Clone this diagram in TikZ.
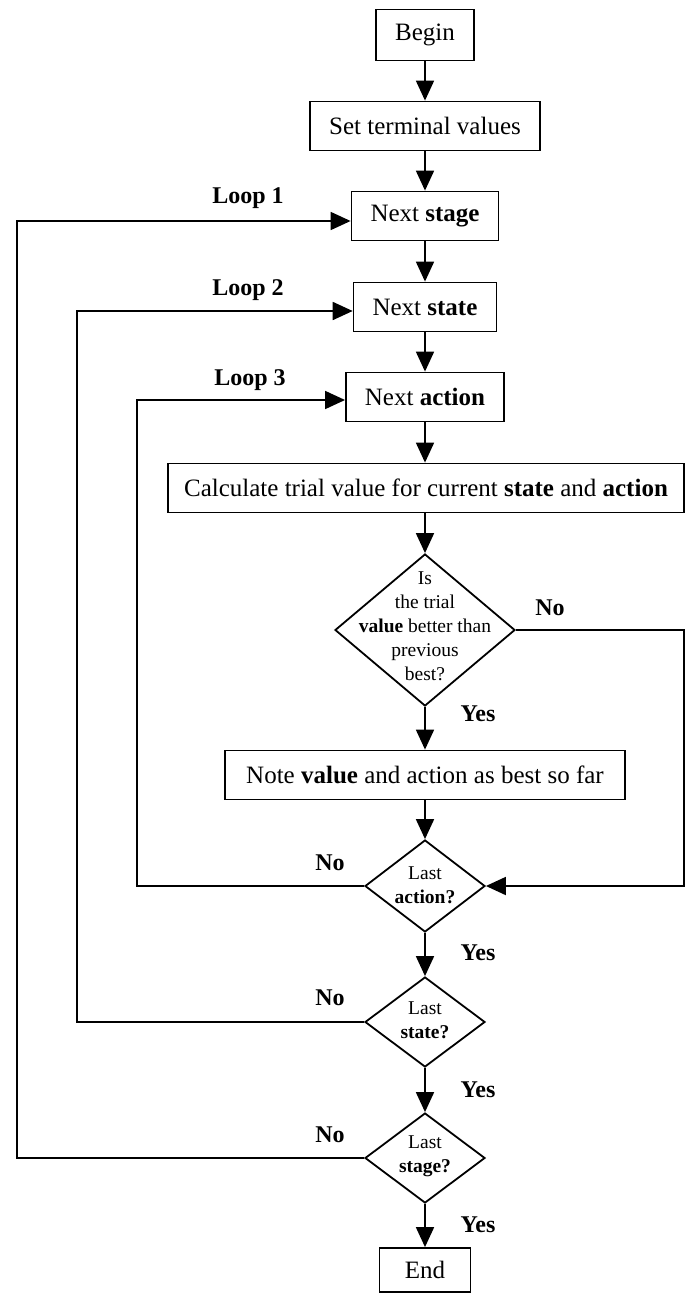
\documentclass[tikz,border=0pt]{standalone}
\usepackage{fontspec}
\setmainfont{Liberation Serif}
\usetikzlibrary{shapes.geometric,arrows.meta}
\begin{document}
\begin{tikzpicture}[x=1pt,y=-1pt,
  line width=1.8pt,
  box/.style={draw, rectangle, inner xsep=19pt, minimum height=49pt,
              font=\fontsize{25}{30}\selectfont},
  dia/.style={draw, diamond, inner sep=0pt},
  dtext/.style={align=center, inner sep=0pt,
                font=\fontsize{19.5}{24}\selectfont},
  lbl/.style={font=\fontsize{24}{28}\selectfont\bfseries},
  flow/.style={-{Triangle[length=20pt,width=18pt]}},
]
\useasboundingbox (0,0) rectangle (685,1295);

% main column
\node[box, minimum width=98pt, minimum height=51pt] (begin) at (425,35) {Begin};
\node[box] (set) at (425,126) {Set terminal values};
\node[box] (stage) at (425,216) {Next \textbf{stage}};
\node[box] (state) at (425,307) {Next \textbf{state}};
\node[box] (action) at (425,397) {Next \textbf{action}};
\node[box, inner xsep=8pt, minimum width=516pt] (calc) at (426,488)
  {Calculate trial value for current \textbf{state} and \textbf{action}};
\node[dia, minimum width=180pt, minimum height=152pt] (better) at (425,630) {};
\node[dtext] (bettertxt) at (425,626)
  {Is\\the trial\\\textbf{value} better than\\previous\\best?};
\node[box, minimum width=400pt] (note) at (425,775)
  {Note \textbf{value} and action as best so far};
\node[dia, minimum width=120pt, minimum height=92pt] (lastact) at (425,886) {};
\node[dtext] (lastacttxt) at (425,885) {Last\\\textbf{action?}};
\node[dia, minimum width=120pt, minimum height=90pt] (lastst) at (425,1022) {};
\node[dtext] (laststtxt) at (425,1020) {Last\\\textbf{state?}};
\node[dia, minimum width=120pt, minimum height=90pt] (laststg) at (425,1158) {};
\node[dtext] (laststgtxt) at (425,1156) {Last\\\textbf{stage?}};
\node[box, minimum width=91pt, minimum height=44pt] (end) at (425,1270) {End};

% verticals of the loop returns
\coordinate (l1) at (17,0);
\coordinate (l2) at (77,0);
\coordinate (l3) at (137,0);
\coordinate (rx) at (684,0);

% entry points of the loops, a little below the box centres
\coordinate (stagein) at ([yshift=-5pt]stage.west);
\coordinate (statein) at ([yshift=-4pt]state.west);
\coordinate (actionin) at ([yshift=-3pt]action.west);

% straight flow
\draw[flow] (begin) -- (set);
\draw[flow] (set) -- (stage);
\draw[flow] (stage) -- (state);
\draw[flow] (state) -- (action);
\draw[flow] (action) -- (calc.north -| action);
\draw[flow] (calc.south -| better) -- (better);
\draw[flow] (better) -- (note);
\draw[flow] (note) -- (lastact);
\draw[flow] (lastact) -- (lastst);
\draw[flow] (lastst) -- (laststg);
\draw[flow] (laststg) -- (end);

% skip when the trial is not better
\draw[flow] (better.east) -- (better.east -| rx) |- (lastact.east);

% loops back
\draw[flow] (lastact.west) -- (lastact.west -| l3) |- (actionin);
\draw[flow] (lastst.west) -- (lastst.west -| l2) |- (statein);
\draw[flow] (laststg.west) -- (laststg.west -| l1) |- (stagein);

% labels
\node[lbl] (loop1) at (248,198) {Loop 1};
\node[lbl] (loop2) at (248,290) {Loop 2};
\node[lbl] (loop3) at (250,380) {Loop 3};
\node[lbl] (no1) at (550,608) {No};
\node[lbl] (yes1) at (478,714) {Yes};
\node[lbl] (no2) at (330,863) {No};
\node[lbl] (yes2) at (478,953) {Yes};
\node[lbl] (no3) at (330,998) {No};
\node[lbl] (yes3) at (478,1090) {Yes};
\node[lbl] (no4) at (330,1135) {No};
\node[lbl] (yes4) at (478,1225) {Yes};
\end{tikzpicture}
\end{document}
